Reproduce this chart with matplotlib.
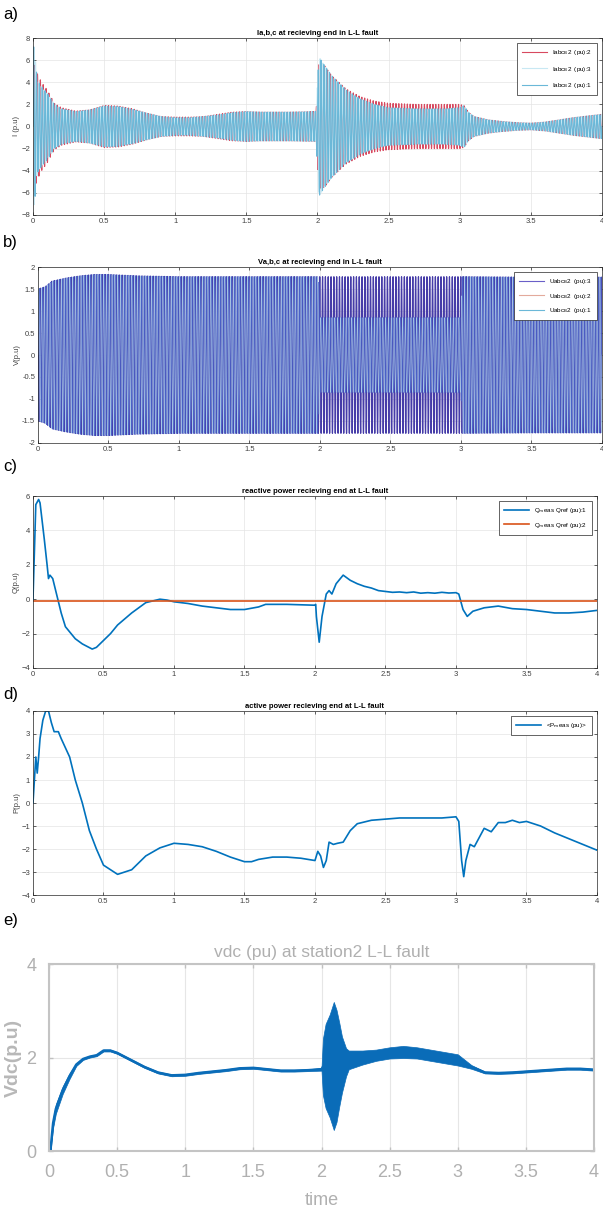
import numpy as np
import matplotlib.pyplot as plt

plt.rcParams['font.family'] = ['Liberation Sans', 'DejaVu Sans']

F_GRID = 50.0  # Hz, carrier of the ac waveforms

x_ticks = [0, 0.5, 1, 1.5, 2, 2.5, 3, 3.5, 4]
x_tick_labels = ['0', '0.5', '1', '1.5', '2', '2.5', '3', '3.5', '4']

# a) currents: amplitude envelope of each phase
ia_t = [0, 0.01, 0.03, 0.06, 0.1, 0.15, 0.2, 0.3, 0.4, 0.5, 0.6, 0.7, 0.8, 0.9, 1.0,
        1.1, 1.2, 1.3, 1.4, 1.5, 1.6, 1.8, 1.99, 2.01, 2.05, 2.1, 2.2, 2.3, 2.4, 2.5,
        2.7, 2.9, 3.0, 3.03, 3.06, 3.1, 3.2, 3.3, 3.4, 3.5, 3.6, 3.7, 3.8, 3.9, 4.0]
ia_env1 = [7.4, 7.0, 4.2, 3.6, 3.0, 2.0, 1.6, 1.35, 1.5, 1.85, 1.8, 1.55, 1.2, 0.9, 0.8,
           0.8, 0.9, 1.05, 1.25, 1.35, 1.3, 1.3, 1.35, 6.3, 5.5, 4.6, 3.3, 2.5, 2.0, 1.7,
           1.6, 1.6, 1.7, 1.9, 1.3, 0.9, 0.6, 0.45, 0.35, 0.3, 0.4, 0.6, 0.8, 0.95, 1.1]
ia_env2 = [5.9, 5.6, 4.8, 4.0, 3.3, 2.1, 1.7, 1.4, 1.5, 1.9, 1.85, 1.6, 1.2, 0.9, 0.85,
           0.85, 0.9, 1.1, 1.3, 1.35, 1.3, 1.3, 1.35, 5.6, 5.5, 4.6, 3.4, 2.7, 2.3, 2.1,
           2.0, 2.0, 2.0, 1.9, 1.3, 0.9, 0.6, 0.45, 0.35, 0.3, 0.4, 0.6, 0.8, 0.95, 1.1]
ia_labels = ['Iabc$_{\\mathrm{B}}$2  (pu):2', 'Iabc$_{\\mathrm{B}}$2  (pu):3',
             'Iabc$_{\\mathrm{B}}$2  (pu):1']

# b) voltages: amplitude envelope
vb_t = [0, 0.05, 0.1, 0.2, 0.3, 0.4, 0.5, 0.7, 1.0, 1.5, 1.99, 2.0, 3.0, 3.01, 3.5, 4.0]
vb_env3 = [1.5, 1.55, 1.68, 1.75, 1.8, 1.83, 1.83, 1.8, 1.78, 1.78, 1.78, 1.78, 1.78,
           1.78, 1.77, 1.77]
vb_env12 = [1.5, 1.55, 1.68, 1.75, 1.8, 1.83, 1.83, 1.8, 1.78, 1.78, 1.78, 0.85, 0.85,
            1.78, 1.77, 1.77]
vb_labels = ['Uabc$_{\\mathrm{B}}$2  (pu):3', 'Uabc$_{\\mathrm{B}}$2  (pu):2',
             'Uabc$_{\\mathrm{B}}$2  (pu):1']

# c) reactive power
q_t = [0, 0.02, 0.04, 0.05, 0.08, 0.1, 0.11, 0.12, 0.14, 0.17, 0.2, 0.23, 0.27, 0.3,
       0.35, 0.42, 0.45, 0.5, 0.55, 0.6, 0.7, 0.8, 0.9, 0.95, 1.0, 1.1, 1.2, 1.3, 1.4,
       1.5, 1.6, 1.65, 1.8, 2.0, 2.005, 2.01, 2.03, 2.05, 2.08, 2.1, 2.12, 2.15, 2.2,
       2.25, 2.3, 2.35, 2.4, 2.45, 2.5, 2.55, 2.6, 2.65, 2.7, 2.75, 2.8, 2.85, 2.9,
       2.95, 3.0, 3.02, 3.05, 3.08, 3.12, 3.2, 3.3, 3.4, 3.5, 3.6, 3.7, 3.8, 3.9, 4.0]
q_meas = [0, 5.5, 5.8, 5.6, 3.5, 2.0, 1.2, 1.4, 1.2, 0.2, -0.8, -1.6, -2.0, -2.3,
          -2.6, -2.9, -2.8, -2.4, -2.0, -1.5, -0.8, -0.2, 0.0, -0.05, -0.15, -0.25,
          -0.4, -0.5, -0.6, -0.6, -0.45, -0.3, -0.3, -0.35, -0.3, -1.0, -2.5, -1.0,
          0.3, 0.5, 0.3, 0.9, 1.4, 1.1, 0.9, 0.75, 0.65, 0.5, 0.45, 0.4, 0.42, 0.38,
          0.42, 0.35, 0.38, 0.35, 0.4, 0.36, 0.38, 0.3, -0.6, -1.0, -0.7, -0.5, -0.4,
          -0.55, -0.6, -0.7, -0.8, -0.8, -0.75, -0.65]
q_ref = -0.1
q_labels = ['Q$_{\\mathrm{m}}$eas Qref (pu):1', 'Q$_{\\mathrm{m}}$eas Qref (pu):2']

# d) active power
p_t = [0, 0.01, 0.02, 0.03, 0.04, 0.05, 0.07, 0.09, 0.11, 0.13, 0.15, 0.18, 0.2, 0.23,
       0.26, 0.3, 0.35, 0.4, 0.45, 0.5, 0.55, 0.6, 0.65, 0.7, 0.75, 0.8, 0.9, 1.0, 1.1,
       1.2, 1.3, 1.4, 1.5, 1.55, 1.6, 1.7, 1.8, 1.9, 2.0, 2.02, 2.04, 2.06, 2.08, 2.1,
       2.13, 2.16, 2.2, 2.25, 2.3, 2.4, 2.5, 2.6, 2.7, 2.8, 2.9, 3.0, 3.02, 3.04, 3.055,
       3.07, 3.1, 3.13, 3.2, 3.25, 3.3, 3.35, 3.4, 3.45, 3.5, 3.6, 3.7, 3.8, 3.9, 4.0]
p_meas = [0, 1.0, 2.0, 1.3, 2.0, 2.8, 3.6, 4.0, 4.0, 3.5, 3.1, 3.1, 2.8, 2.4, 2.0,
          1.0, 0.0, -1.2, -2.0, -2.7, -2.9, -3.1, -3.0, -2.9, -2.6, -2.3, -1.95, -1.75,
          -1.8, -1.9, -2.1, -2.35, -2.55, -2.55, -2.45, -2.35, -2.35, -2.4, -2.5, -2.1,
          -2.3, -2.8, -2.5, -1.7, -1.8, -1.75, -1.7, -1.2, -0.9, -0.75, -0.7, -0.65,
          -0.65, -0.65, -0.65, -0.6, -0.8, -2.5, -3.2, -2.5, -1.8, -1.9, -1.1, -1.25,
          -0.85, -0.85, -0.75, -0.85, -0.8, -1.0, -1.3, -1.55, -1.8, -2.05]

# e) dc voltage: mean level and half-width of the ripple band
v_t = [0.01, 0.03, 0.05, 0.1, 0.15, 0.2, 0.25, 0.3, 0.35, 0.4, 0.45, 0.5, 0.6, 0.7,
       0.8, 0.9, 1.0, 1.1, 1.2, 1.3, 1.4, 1.5, 1.6, 1.7, 1.8, 1.9, 2.0, 2.01, 2.03,
       2.06, 2.09, 2.11, 2.13, 2.15, 2.18, 2.2, 2.3, 2.4, 2.5, 2.6, 2.7, 2.8, 2.9,
       3.0, 3.1, 3.2, 3.3, 3.4, 3.5, 3.6, 3.7, 3.8, 3.9, 4.0]
v_dc = [0, 0.6, 0.9, 1.3, 1.6, 1.85, 1.97, 2.02, 2.05, 2.15, 2.15, 2.1, 1.95, 1.8,
        1.68, 1.62, 1.63, 1.67, 1.7, 1.73, 1.77, 1.78, 1.75, 1.72, 1.72, 1.73, 1.75,
        1.8, 1.82, 1.82, 1.82, 1.82, 1.85, 1.85, 1.9, 1.95, 2.0, 2.05, 2.1, 2.12, 2.1,
        2.05, 2.0, 1.95, 1.8, 1.68, 1.67, 1.68, 1.7, 1.72, 1.74, 1.76, 1.76, 1.74]
v_rip = [0.03, 0.1, 0.1, 0.08, 0.06, 0.03, 0.02, 0.02, 0.02, 0.02, 0.02, 0.02, 0.02,
         0.02, 0.02, 0.02, 0.02, 0.02, 0.02, 0.02, 0.02, 0.02, 0.02, 0.02, 0.02, 0.02,
         0.03, 0.6, 0.9, 1.1, 1.37, 1.2, 0.9, 0.6, 0.3, 0.2, 0.15, 0.12, 0.12, 0.13,
         0.12, 0.12, 0.12, 0.12, 0.04, 0.02, 0.02, 0.02, 0.02, 0.02, 0.02, 0.02, 0.02,
         0.02]

tt = np.linspace(0, 4, 16001)
wt = 2 * np.pi * F_GRID * tt


def matlab_axes(ax, yticks, title, ylabel):
    ax.set_xlim(0, 4)
    ax.set_ylim(yticks[0], yticks[-1])
    ax.set_xticks(x_ticks)
    ax.set_xticklabels(x_tick_labels)
    ax.set_yticks(yticks)
    ax.tick_params(direction='in', length=2, width=0.5, labelsize=5.5, colors='#262626',
                   labelcolor='#404040', top=True, right=True, pad=2)
    ax.grid(True, color='#e4e4e4', lw=0.5)
    ax.set_axisbelow(True)
    for s in ax.spines.values():
        s.set_linewidth(0.5)
        s.set_color('#262626')
    ax.set_title(title, fontsize=5.5, fontweight='bold', pad=2)
    ax.set_ylabel(ylabel, fontsize=5.5, color='#404040', labelpad=1)


def small_legend(ax, handles, labels, spacing=0.9):
    leg = ax.legend(handles, labels, loc='upper right', fontsize=4.5, fancybox=False,
                    framealpha=1, handlelength=4, borderaxespad=0.8,
                    labelspacing=spacing, borderpad=0.8)
    leg.get_frame().set_edgecolor('#262626')
    leg.get_frame().set_linewidth(0.5)


fig = plt.figure(figsize=(6.03, 12.11), dpi=100)

# a
ax = fig.add_axes([0.0547, 0.8225, 0.9436, 0.1461])
e1 = np.interp(tt, ia_t, ia_env1)
e2 = np.interp(tt, ia_t, ia_env2)
la2, = ax.plot(tt, e2 * np.sin(wt - 2 * np.pi / 3), color='#d8495f', lw=0.8)
la3, = ax.plot(tt, e1 * np.sin(wt + 2 * np.pi / 3), color='#c8e8f3', lw=0.8)
la1, = ax.plot(tt, e1 * np.sin(wt), color='#6bb8d8', lw=0.8)
matlab_axes(ax, list(range(-8, 9, 2)), 'Ia,b,c at recieving end in L-L fault', 'I (p.u)')
small_legend(ax, [la2, la3, la1], ia_labels, 1.2)

# b
ax = fig.add_axes([0.063, 0.6342, 0.9353, 0.1453])
e3 = np.interp(tt, vb_t, vb_env3)
e12 = np.interp(tt, vb_t, vb_env12)
lb3, = ax.plot(tt, e3 * np.sin(wt + 2 * np.pi / 3), color='#463ca8', lw=0.9)
lb2, = ax.plot(tt, e12 * np.sin(wt - 2 * np.pi / 3), color='#4a62c8', lw=0.6)
lb1, = ax.plot(tt, e12 * np.sin(wt), color='#a8c8e6', lw=0.4)
matlab_axes(ax, [-2, -1.5, -1, -0.5, 0, 0.5, 1, 1.5, 2],
            'Va,b,c at recieving end in L-L fault', 'V(p.u)')
ax.set_yticklabels(['-2', '-1.5', '-1', '-0.5', '0', '0.5', '1', '1.5', '2'])
hb3 = plt.Line2D([], [], color='#6a5fc8', lw=0.8)
hb2 = plt.Line2D([], [], color='#e3aa9c', lw=0.8)
hb1 = plt.Line2D([], [], color='#6bb8d8', lw=0.8)
small_legend(ax, [hb3, hb2, hb1], vb_labels)

# c
ax = fig.add_axes([0.0547, 0.4484, 0.9353, 0.142])
lq1, = ax.plot(q_t, q_meas, color='#0072BD', lw=1.2)
lq2 = ax.axhline(q_ref, color='#D95319', lw=1.2)
matlab_axes(ax, [-4, -2, 0, 2, 4, 6], 'reactive power recieving end at L-L fault', 'Q(p.u)')
small_legend(ax, [lq1, lq2], q_labels)

# d
ax = fig.add_axes([0.0547, 0.2609, 0.9353, 0.152])
lp, = ax.plot(p_t, p_meas, color='#0072BD', lw=1.2)
matlab_axes(ax, list(range(-4, 5)), 'active power recieving end at L-L fault', 'P(p.u)')
small_legend(ax, [lp], ['<P$_{\\mathrm{m}}$eas (pu)>'])

# e
ax = fig.add_axes([0.0813, 0.0495, 0.9038, 0.1544])
vm = np.array(v_dc)
vr = np.array(v_rip)
ax.fill_between(v_t, vm - vr, vm + vr, color='#0a6cb8', lw=0.5, edgecolor='#0a6cb8')
ax.plot(v_t, v_dc, color='#0a6cb8', lw=1.8)
ax.set_xlim(0, 4)
ax.set_ylim(0, 4)
ax.set_xticks(x_ticks)
ax.set_xticklabels(x_tick_labels)
ax.set_yticks([0, 2, 4])
ax.tick_params(direction='in', length=3, width=1, labelsize=13, colors='#c0c0c0',
               labelcolor='#b0b0b0', top=True, right=True, pad=9)
ax.grid(True, color='#e6e6e6', lw=0.8)
ax.set_axisbelow(True)
for s in ax.spines.values():
    s.set_linewidth(1.5)
    s.set_color('#c4c4c4')
ax.set_title('vdc (pu) at station2 L-L fault', fontsize=12.5, color='#b0b0b0', pad=5)
ax.set_ylabel('Vdc(p.u)', fontsize=14, fontweight='bold', color='#b8b8b8', labelpad=3)
ax.set_xlabel('time', fontsize=13, color='#b0b0b0', labelpad=8)

for lab, y in zip(['a)', 'b)', 'c)', 'd)', 'e)'], [15, 242, 467, 695, 921]):
    fig.text(0.005, 1 - y / 1211, lab, fontsize=12, va='center', ha='left')

plt.savefig('out.png', dpi=100)
